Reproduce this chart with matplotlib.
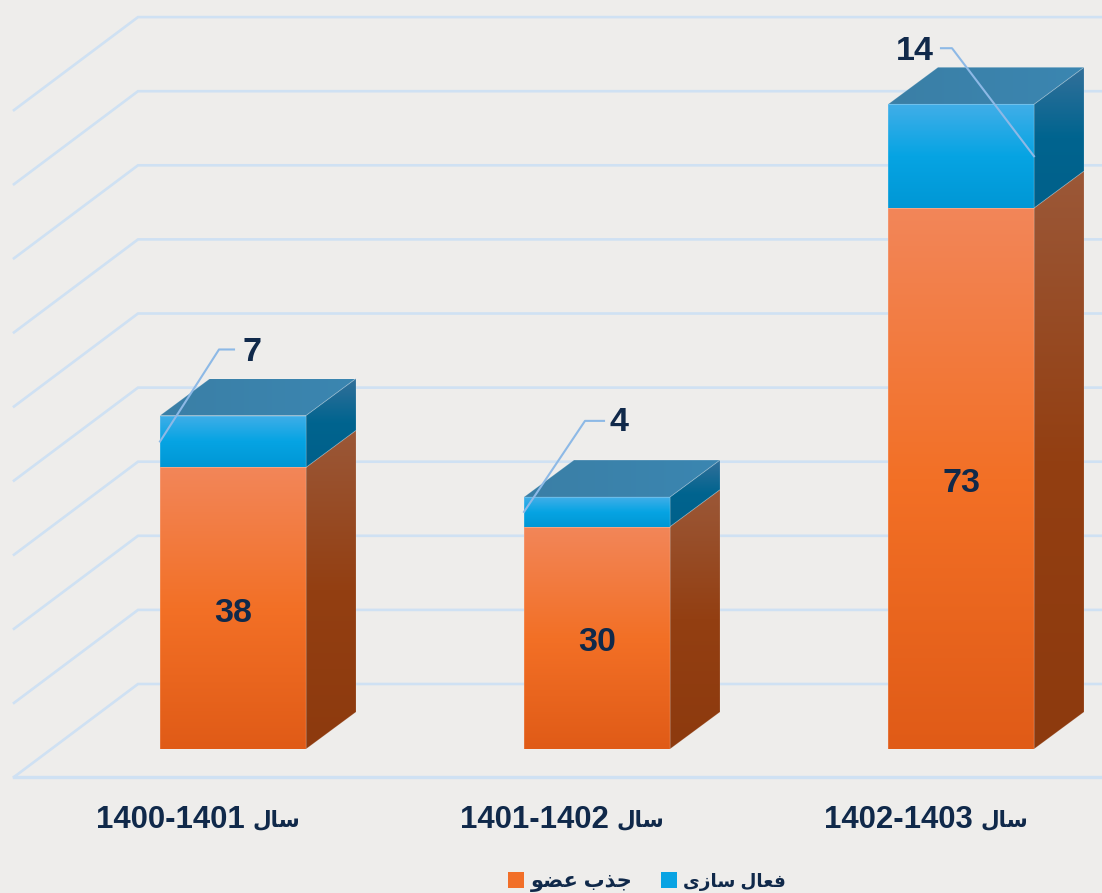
import matplotlib
matplotlib.use("Agg")
import matplotlib.pyplot as plt
import numpy as np
from matplotlib.colors import LinearSegmentedColormap
from matplotlib.patches import Polygon, Patch

# ---- data ----
periods = ["1400-1401", "1401-1402", "1402-1403"]
year_word = "\uFEDD\uFE8E\uFEB3"          # "sal", shaped, visual order
recruit = [38, 30, 73]
activation = [7, 4, 14]
legend_recruit = "\uFEEE\uFEC0\uFECB \uFE8F\uFEAC\uFE9F"          # jazb ozv
legend_activation = "\uFBFC\uFEAF\uFE8E\uFEB3 \uFEDD\uFE8E\uFECC\uFED3"  # faal sazi
grid_values = list(range(0, 100, 10))

# ---- style ----
W, H = 1102, 893
BG = "#EEEDEB"
TXT = "#10294A"
GRID = "#CFE1F3"
LEAD = "#8DB9E6"
FONT = ["Liberation Sans", "DejaVu Sans"]
PX_PER_CAT = 364.0
PX_PER_VAL = 7.41
X0_PX, Y0_PX = 233.0, 749.0
BAR_W = 146 / PX_PER_CAT
DX, DY = 50 / PX_PER_CAT, 37 / PX_PER_VAL
px = lambda n: n / PX_PER_CAT
py = lambda n: n / PX_PER_VAL

front_orange = ["#E05B17", "#F37026", "#F28659"]
side_orange = ["#8D3A0E", "#933F12", "#9B5838"]
front_blue = ["#0097D5", "#06A4E3", "#41AEE8"]
side_blue = ["#00608A", "#00648F", "#33709A"]
top_blue = ["#3B7FA6", "#3A86B1"]

fig = plt.figure(figsize=(W / 100, H / 100), dpi=100, facecolor=BG)
ax = fig.add_axes([0, 0, 1, 1])
ax.set_facecolor(BG)
xlim = (-X0_PX / PX_PER_CAT, (W - X0_PX) / PX_PER_CAT)
ylim = (-(H - Y0_PX) / PX_PER_VAL, Y0_PX / PX_PER_VAL)


def grad_poly(pts, colors, z, horizontal=False):
    """Fill a polygon with a linear gradient clipped to it."""
    pts = np.array(pts)
    x0, x1, y0, y1 = pts[:, 0].min(), pts[:, 0].max(), pts[:, 1].min(), pts[:, 1].max()
    cmap = LinearSegmentedColormap.from_list("g", colors)
    g = np.linspace(0, 1, 256)
    g = g[None, :] if horizontal else g[:, None]
    im = ax.imshow(g, extent=(x0, x1, y0, y1), origin="lower", cmap=cmap, aspect="auto",
                   zorder=z, interpolation="bilinear")
    clip = Polygon(pts, closed=True, transform=ax.transData, fc="none", ec="none")
    ax.add_patch(clip)
    im.set_clip_path(clip)
    ax.add_patch(Polygon(pts, closed=True, fc="none", ec="#FFFFFF", lw=0.7, alpha=0.15, zorder=z + 0.1))


# walls
back_up = py(Y0_PX - 684)
front_dn = py(777 - Y0_PX)
wall_l, wall_b = (14 - X0_PX) / PX_PER_CAT, (138 - X0_PX) / PX_PER_CAT
for v in grid_values:
    ax.plot([wall_l, wall_b, xlim[1]], [v - front_dn, v + back_up, v + back_up],
            color=GRID, lw=1.9, zorder=1, solid_joinstyle="miter")
ax.plot([wall_l, xlim[1]], [-front_dn, -front_dn], color=GRID, lw=2.4, zorder=1)

# bars
for i, (a, b) in enumerate(zip(recruit, activation)):
    l, r = i - BAR_W / 2, i + BAR_W / 2
    t = a + b
    grad_poly([(r, 0), (r + DX, DY), (r + DX, a + DY), (r, a)], side_orange, 3)
    grad_poly([(l, 0), (r, 0), (r, a), (l, a)], front_orange, 3)
    grad_poly([(r, a), (r + DX, a + DY), (r + DX, t + DY), (r, t)], side_blue, 3)
    grad_poly([(l, a), (r, a), (r, t), (l, t)], front_blue, 3)
    grad_poly([(l, t), (r, t), (r + DX, t + DY), (l + DX, t + DY)], top_blue, 3, horizontal=True)
    ax.text(i, a / 2 - py(5), str(a), ha="center", va="center",
            fontsize=24.5, fontweight="bold", color=TXT, family=FONT, zorder=6)

# leader lines and activation labels: (edge side, elbow dx, elbow dy, end dx, text dx, text drop)
leaders = [(-1, 59, 92, 74, 92, 3), (-1, 61, 91, 80, 95, 2), (1, -82, 108, -93, -119, 3)]
for i, (b, a, (side, ex, ey, endx, tx, drop)) in enumerate(zip(activation, recruit, leaders)):
    ax_x = i + side * BAR_W / 2
    ax_y = a + b / 2
    xs = [ax_x, ax_x + px(ex), ax_x + px(endx)]
    ys = [ax_y, ax_y + py(ey), ax_y + py(ey)]
    ax.plot(xs, ys, color=LEAD, lw=1.5, zorder=5)
    ax.text(ax_x + px(tx), ax_y + py(ey) - py(drop), str(b), ha="center", va="center",
            fontsize=24.5, fontweight="bold", color=TXT, family=FONT, zorder=6)

# category labels
ax.set_xlim(*xlim)
ax.set_ylim(*ylim)
ax.set_xticks([])
ax.set_yticks([])
for s in ax.spines.values():
    s.set_visible(False)
for i, p in enumerate(periods):
    ax.text(i + px(12), py(Y0_PX - 828), p, ha="right", va="baseline",
            fontsize=22.4, fontweight="bold", color=TXT, family=FONT)
    ax.text(i + px(67), py(Y0_PX - 826), year_word, ha="right", va="baseline",
            fontsize=15.5, fontweight="bold", color=TXT, family=FONT)

handles = [Patch(fc="#F26F28", ec="none", label=legend_recruit),
           Patch(fc="#09A3E3", ec="none", label=legend_activation)]
leg = ax.legend(handles=handles, ncols=2, loc="center", bbox_to_anchor=(647 / W, 1 - 882 / H),
                frameon=False, handlelength=0.78, handleheight=0.78, handletextpad=0.3, columnspacing=1.35,
                borderpad=0, prop={"family": FONT, "weight": "bold", "size": 15}, labelcolor=TXT)
leg.get_texts()[1].set_fontsize(13.2)

fig.savefig("out.png", dpi=100, facecolor=BG)
